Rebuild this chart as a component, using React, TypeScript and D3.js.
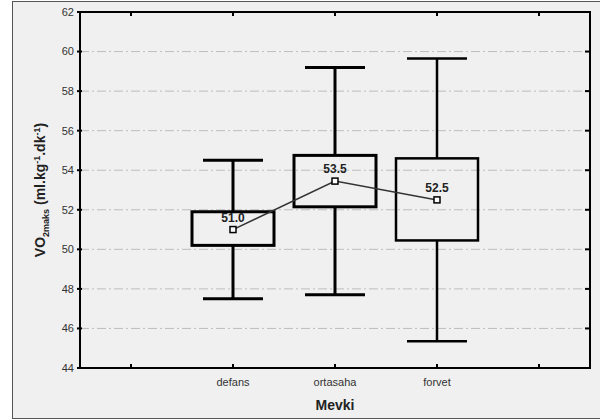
import { useEffect, useRef } from 'react';
import * as d3 from 'd3';

// kategoriler (iki boş uç kategori eksen aralığı için)
const categories = ['', 'defans', 'ortasaha', 'forvet', ' '];
const groups = ['defans', 'ortasaha', 'forvet'];
const boxLow = [50.2, 52.15, 50.45];
const boxHigh = [51.9, 54.75, 54.6];
const whiskerLow = [47.5, 47.7, 45.35];
const whiskerHigh = [54.5, 59.2, 59.65];
const means = [51.0, 53.45, 52.5];
const meanLabels = ['51.0', '53.5', '52.5'];
const yTicks = [44, 46, 48, 50, 52, 54, 56, 58, 60, 62];

const App: React.FC = () => {
  const svgRef = useRef<SVGSVGElement | null>(null);

  useEffect(() => {
    if (svgRef.current === null) return;
    const svg = d3.select(svgRef.current);
    svg.selectAll('*').remove();

    const left = 80;
    const right = 590;
    const top = 12;
    const bottom = 368;
    const font = 'Liberation Sans, Arial, sans-serif';

    const x = d3.scaleBand<string>().domain(categories).range([left, right]).padding(0);
    const y = d3.scaleLinear().domain([44, 62]).range([bottom, top]);
    const cx = (c: string) => (x(c) ?? 0) + x.bandwidth() / 2;

    // arka plan ve dış çerçeve
    svg.append('rect').attr('width', 600).attr('height', 420).attr('fill', '#fff');
    svg
      .append('rect')
      .attr('x', 12.5)
      .attr('y', 1.5)
      .attr('width', 600)
      .attr('height', 417)
      .attr('fill', '#f0f0f0')
      .attr('stroke', '#555')
      .attr('stroke-width', 1);

    // ızgara çizgileri
    svg
      .selectAll('.grid')
      .data(yTicks.filter((d) => d > 44 && d < 62))
      .enter()
      .append('line')
      .attr('x1', left)
      .attr('x2', right)
      .attr('y1', (d) => y(d))
      .attr('y2', (d) => y(d))
      .attr('stroke', '#bdbdbd')
      .attr('stroke-width', 1)
      .attr('stroke-dasharray', '9,3,2,3');

    // eksen tikleri
    const tickG = svg.append('g').attr('stroke', '#000').attr('stroke-width', 2);
    yTicks.forEach((t) => {
      tickG.append('line').attr('x1', left - 3).attr('x2', left + 2).attr('y1', y(t)).attr('y2', y(t));
      tickG.append('line').attr('x1', right - 5).attr('x2', right).attr('y1', y(t)).attr('y2', y(t));
    });
    categories.forEach((c) => {
      tickG.append('line').attr('x1', cx(c)).attr('x2', cx(c)).attr('y1', top).attr('y2', top + 4);
      tickG.append('line').attr('x1', cx(c)).attr('x2', cx(c)).attr('y1', bottom - 4).attr('y2', bottom);
    });

    // çizim alanı çerçevesi
    svg
      .append('rect')
      .attr('x', left)
      .attr('y', top)
      .attr('width', right - left)
      .attr('height', bottom - top)
      .attr('fill', 'none')
      .attr('stroke', '#000')
      .attr('stroke-width', 2);

    // y etiketleri
    svg
      .selectAll('.ylab')
      .data(yTicks)
      .enter()
      .append('text')
      .attr('x', left - 6)
      .attr('y', (d) => y(d))
      .attr('dy', '0.35em')
      .attr('text-anchor', 'end')
      .attr('font-family', font)
      .attr('font-size', 11)
      .attr('fill', '#333')
      .text((d) => d);

    // x etiketleri
    svg
      .selectAll('.xlab')
      .data(groups)
      .enter()
      .append('text')
      .attr('x', (d) => cx(d))
      .attr('y', 386)
      .attr('text-anchor', 'middle')
      .attr('font-family', font)
      .attr('font-size', 11)
      .attr('fill', '#333')
      .text((d) => d);

    // eksen başlıkları
    svg
      .append('text')
      .attr('x', (left + right) / 2)
      .attr('y', 410)
      .attr('text-anchor', 'middle')
      .attr('font-family', font)
      .attr('font-size', 14)
      .attr('font-weight', 'bold')
      .attr('fill', '#222')
      .text('Mevki');

    const yTitle = svg
      .append('text')
      .attr('transform', `translate(45, ${(top + bottom) / 2}) rotate(-90)`)
      .attr('text-anchor', 'middle')
      .attr('font-family', font)
      .attr('font-size', 14)
      .attr('font-weight', 'bold')
      .attr('fill', '#222');
    yTitle.append('tspan').text('VO');
    yTitle.append('tspan').attr('font-size', 9).attr('dy', 4).text('2maks');
    yTitle.append('tspan').attr('dy', -4).text(' (ml.kg');
    yTitle.append('tspan').attr('font-size', 9).attr('dy', -5).text('-1');
    yTitle.append('tspan').attr('dy', 5).text('.dk');
    yTitle.append('tspan').attr('font-size', 9).attr('dy', -5).text('-1');
    yTitle.append('tspan').attr('dy', 5).text(')');

    // kutular ve bıyıklar
    const boxW = 82;
    const capW = 60;
    groups.forEach((g, i) => {
      const c = cx(g);
      const sw = i === 2 ? 2.5 : 3;
      const wg = svg.append('g').attr('stroke', '#000').attr('stroke-width', sw);
      wg.append('line').attr('x1', c).attr('x2', c).attr('y1', y(whiskerHigh[i])).attr('y2', y(boxHigh[i]));
      wg.append('line').attr('x1', c).attr('x2', c).attr('y1', y(boxLow[i])).attr('y2', y(whiskerLow[i]));
      wg.append('line').attr('x1', c - capW / 2).attr('x2', c + capW / 2).attr('y1', y(whiskerHigh[i])).attr('y2', y(whiskerHigh[i]));
      wg.append('line').attr('x1', c - capW / 2).attr('x2', c + capW / 2).attr('y1', y(whiskerLow[i])).attr('y2', y(whiskerLow[i]));
      wg.append('rect')
        .attr('x', c - boxW / 2)
        .attr('y', y(boxHigh[i]))
        .attr('width', boxW)
        .attr('height', y(boxLow[i]) - y(boxHigh[i]))
        .attr('fill', 'none');
    });

    // ortalama çizgisi
    const line = d3
      .line<number>()
      .x((_, i) => cx(groups[i]))
      .y((d) => y(d));
    svg
      .append('path')
      .attr('d', line(means))
      .attr('fill', 'none')
      .attr('stroke', '#333')
      .attr('stroke-width', 1.5);

    svg
      .selectAll('.mean')
      .data(means)
      .enter()
      .append('rect')
      .attr('x', (_, i) => cx(groups[i]) - 3)
      .attr('y', (d) => y(d) - 3)
      .attr('width', 6)
      .attr('height', 6)
      .attr('fill', '#fff')
      .attr('stroke', '#000')
      .attr('stroke-width', 1.5);

    svg
      .selectAll('.meanlab')
      .data(means)
      .enter()
      .append('text')
      .attr('x', (_, i) => cx(groups[i]))
      .attr('y', (d) => y(d) - 8)
      .attr('text-anchor', 'middle')
      .attr('font-family', font)
      .attr('font-size', 12)
      .attr('font-weight', 'bold')
      .attr('fill', '#222')
      .text((_, i) => meanLabels[i]);
  }, []);

  return (
    <svg
      ref={svgRef}
      width={600}
      height={420}
      style={{ position: 'absolute', left: 0, top: 0 }}
    ></svg>
  );
};

export default App;
